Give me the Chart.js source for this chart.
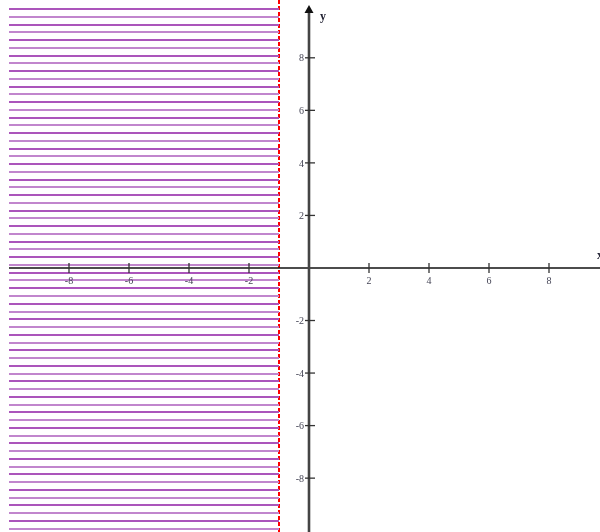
<!DOCTYPE html>
<html>
<head>
<meta charset="utf-8">
<script src="https://cdn.jsdelivr.net/npm/chart.js@4"></script>
<style>
  html, body { margin: 0; padding: 0; background: #fff; }
  #wrap { width: 600px; height: 532px; }
</style>
</head>
<body>
<div id="wrap"><canvas id="plot" width="600" height="532"></canvas></div>
<script>
// axis ranges and ticks
const xRange = [-10.3, 9.7];
const yRange = [-10.05, 10.2];
const xTicks = [-8, -6, -4, -2, 2, 4, 6, 8];
const yTicks = [-8, -6, -4, -2, 2, 4, 6, 8];

// inequality x < -1 : boundary and shaded region
const boundaryX = -1;
const regionX = [-10, -1];
const regionY = [-10.05, 9.95];

// horizontal hatch pattern for the shaded region
function makeHatch(w, h) {
  const c = document.createElement('canvas');
  c.width = w; c.height = h;
  const g = c.getContext('2d');
  let k = 0;
  for (let y = 8; y < h - 1; y += 7.757) {
    const yy = Math.round(y);
    g.fillStyle = (k % 2) ? '#c186cd' : '#ab55bb';
    g.fillRect(0, yy, w, 2);
    k++;
  }
  return g.createPattern(c, 'no-repeat');
}

const axesPlugin = {
  id: 'axes',
  afterDatasetsDraw(chart) {
    const ctx = chart.ctx;
    const xs = chart.scales.x, ys = chart.scales.y;
    const ox = xs.getPixelForValue(0), oy = ys.getPixelForValue(0);
    ctx.save();

    // x axis
    ctx.strokeStyle = '#111';
    ctx.lineWidth = 1.6;
    ctx.beginPath();
    ctx.moveTo(xs.getPixelForValue(-10), oy);
    ctx.lineTo(chart.width, oy);
    ctx.stroke();

    // y axis with arrow
    ctx.strokeStyle = '#444';
    ctx.lineWidth = 2.6;
    ctx.beginPath();
    ctx.moveTo(ox, chart.height);
    ctx.lineTo(ox, 10);
    ctx.stroke();
    ctx.fillStyle = '#111';
    ctx.beginPath();
    ctx.moveTo(ox, 5);
    ctx.lineTo(ox - 4.5, 13);
    ctx.lineTo(ox + 4.5, 13);
    ctx.closePath();
    ctx.fill();

    // ticks
    ctx.strokeStyle = '#333';
    ctx.lineWidth = 1.3;
    ctx.font = '10px "Liberation Serif", serif';
    ctx.fillStyle = '#445';
    ctx.textAlign = 'center';
    ctx.textBaseline = 'middle';
    xTicks.forEach(v => {
      const px = xs.getPixelForValue(v);
      ctx.beginPath();
      ctx.moveTo(px, oy - 5);
      ctx.lineTo(px, oy + 5);
      ctx.stroke();
      ctx.fillText(String(v), px, oy + 13);
    });
    ctx.textAlign = 'right';
    yTicks.forEach(v => {
      const py = ys.getPixelForValue(v);
      ctx.beginPath();
      ctx.moveTo(ox - 4, py);
      ctx.lineTo(ox + 6, py);
      ctx.stroke();
      ctx.fillText(String(v), ox - 5, py + 1);
    });

    // axis names
    ctx.fillStyle = '#223';
    ctx.font = 'bold 12px "Liberation Serif", serif';
    ctx.textAlign = 'left';
    ctx.fillText('y', ox + 11, 17);
    ctx.fillText('x', chart.width - 3, oy - 12);
    ctx.restore();
  }
};

const ctx = document.getElementById('plot').getContext('2d');
new Chart(ctx, {
  type: 'scatter',
  data: {
    datasets: [
      {
        label: 'x < -1',
        showLine: true,
        data: [{ x: regionX[0], y: regionY[1] }, { x: regionX[1], y: regionY[1] }],
        borderWidth: 0,
        borderColor: 'rgba(0,0,0,0)',
        pointRadius: 0,
        fill: { value: regionY[0] },
        backgroundColor: makeHatch(600, 532)
      },
      {
        label: 'x = -1',
        showLine: true,
        data: [{ x: boundaryX, y: yRange[1] }, { x: boundaryX, y: yRange[0] }],
        borderColor: '#ff0000',
        borderWidth: 2,
        borderDash: [4, 2],
        pointRadius: 0,
        fill: false
      }
    ]
  },
  options: {
    responsive: false,
    animation: false,
    devicePixelRatio: 1,
    layout: { padding: 0 },
    plugins: { legend: { display: false }, tooltip: { enabled: false } },
    scales: {
      x: { type: 'linear', min: xRange[0], max: xRange[1], display: false },
      y: { type: 'linear', min: yRange[0], max: yRange[1], display: false }
    }
  },
  plugins: [axesPlugin]
});
</script>
</body>
</html>
